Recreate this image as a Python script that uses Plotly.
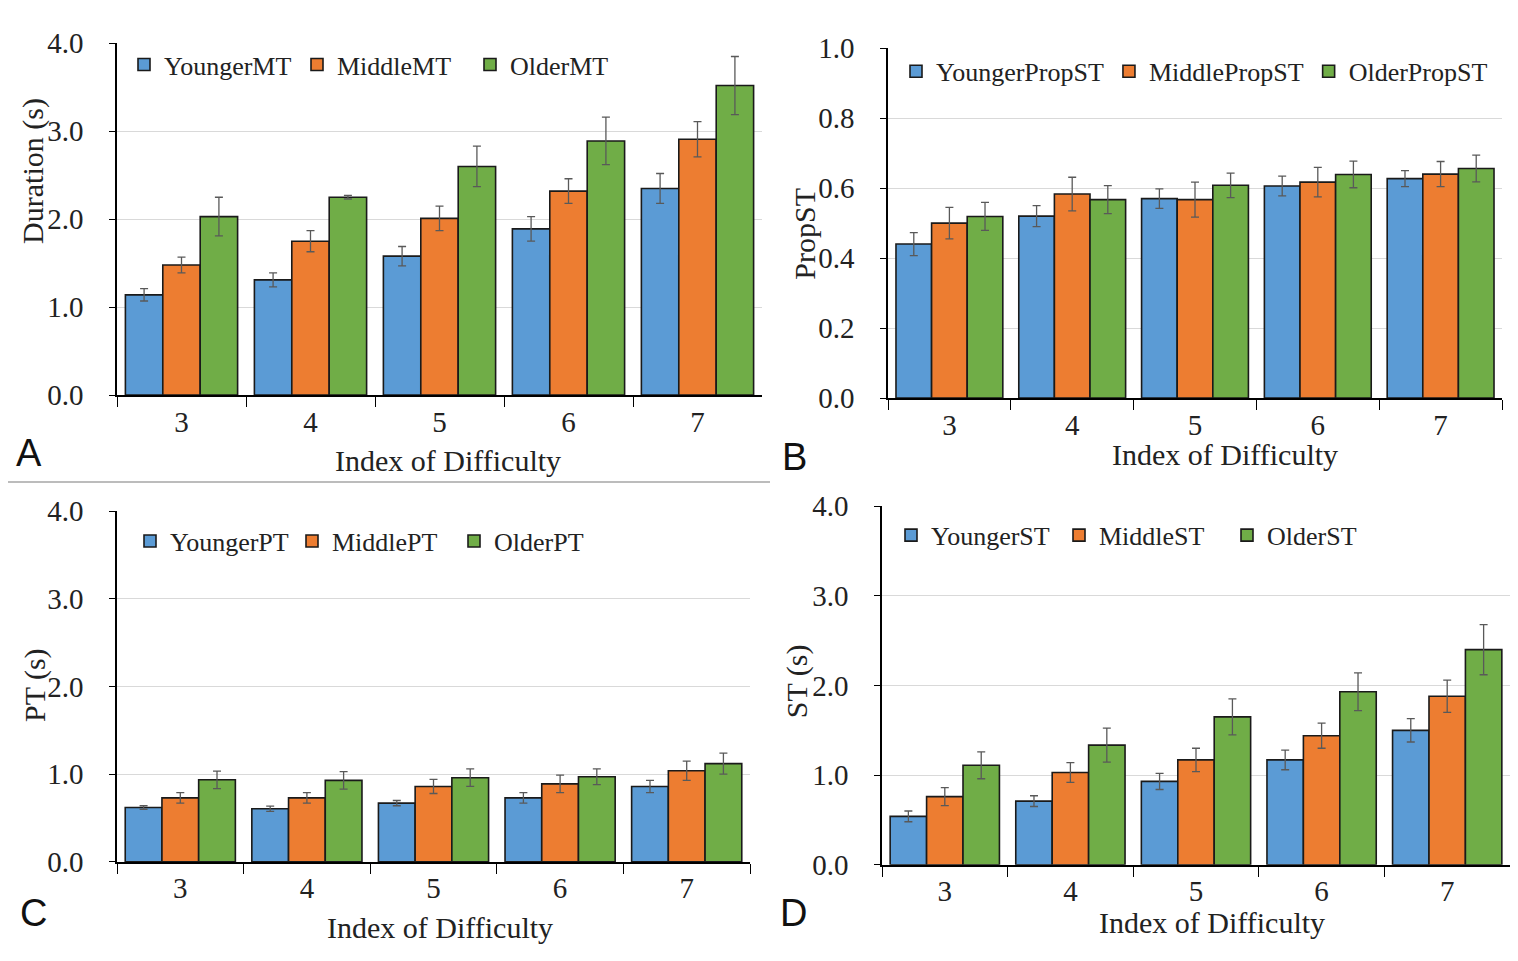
import plotly.graph_objects as go

# The page body adds an 8px margin, so the figure is drawn 8px smaller and all
# layout positions below are given in window pixels and shifted by OFF.
OFF = 8
W, H = 1518 - OFF, 961 - OFF

categories = ["3", "4", "5", "6", "7"]

# Panel A: movement time (Duration, s)
younger_mt = [1.14, 1.31, 1.58, 1.89, 2.35]
middle_mt = [1.48, 1.75, 2.01, 2.32, 2.91]
older_mt = [2.03, 2.25, 2.60, 2.89, 3.52]
younger_mt_err = [0.07, 0.08, 0.11, 0.14, 0.17]
middle_mt_err = [0.09, 0.12, 0.14, 0.14, 0.20]
older_mt_err = [0.22, 0.02, 0.23, 0.27, 0.33]

# Panel B: proportion of ST
younger_prop = [0.44, 0.52, 0.57, 0.606, 0.627]
middle_prop = [0.50, 0.583, 0.567, 0.617, 0.64]
older_prop = [0.519, 0.567, 0.608, 0.639, 0.656]
younger_prop_err = [0.033, 0.03, 0.028, 0.028, 0.023]
middle_prop_err = [0.045, 0.048, 0.05, 0.042, 0.036]
older_prop_err = [0.04, 0.04, 0.035, 0.038, 0.038]

# Panel C: PT (s)
younger_pt = [0.62, 0.606, 0.67, 0.73, 0.86]
middle_pt = [0.73, 0.73, 0.86, 0.89, 1.04]
older_pt = [0.936, 0.93, 0.96, 0.97, 1.12]
younger_pt_err = [0.02, 0.03, 0.03, 0.06, 0.07]
middle_pt_err = [0.06, 0.06, 0.08, 0.10, 0.11]
older_pt_err = [0.10, 0.10, 0.10, 0.09, 0.12]

# Panel D: ST (s)
younger_st = [0.54, 0.71, 0.93, 1.17, 1.50]
middle_st = [0.76, 1.03, 1.17, 1.44, 1.88]
older_st = [1.11, 1.335, 1.65, 1.93, 2.40]
younger_st_err = [0.06, 0.06, 0.09, 0.11, 0.13]
middle_st_err = [0.10, 0.11, 0.13, 0.14, 0.18]
older_st_err = [0.15, 0.19, 0.20, 0.21, 0.28]

panel_series = [
    (["YoungerMT", "MiddleMT", "OlderMT"], [younger_mt, middle_mt, older_mt],
     [younger_mt_err, middle_mt_err, older_mt_err]),
    (["YoungerPropST", "MiddlePropST", "OlderPropST"], [younger_prop, middle_prop, older_prop],
     [younger_prop_err, middle_prop_err, older_prop_err]),
    (["YoungerPT", "MiddlePT", "OlderPT"], [younger_pt, middle_pt, older_pt],
     [younger_pt_err, middle_pt_err, older_pt_err]),
    (["YoungerST", "MiddleST", "OlderST"], [younger_st, middle_st, older_st],
     [younger_st_err, middle_st_err, older_st_err]),
]

colors = ["#5B9BD5", "#ED7D31", "#70AD47"]
SERIF = "Liberation Serif, Times New Roman, serif"


def px(x):
    return (x - OFF) / W


def py(y):
    return 1 - (y - OFF) / H


# pixel boxes in window coords: (x0, x1, ytop, ybottom)
boxes = [(117, 762, 28, 392), (888, 1502, 33, 395), (117, 750, 512, 875), (882, 1510, 507, 878)]
yranges = [[0, 4], [0, 1], [0, 4], [0, 4]]
ytickvals = [[0, 1, 2, 3, 4], [0, 0.2, 0.4, 0.6, 0.8, 1.0], [0, 1, 2, 3, 4], [0, 1, 2, 3, 4]]
ytitles = ["Duration (s)", "PropST", "PT (s)", "ST (s)"]
ytitle_pos = [(33, 160), (805, 225), (35, 692), (797, 688)]
xtitle_pos = [(448, 460), (1225, 453), (440, 943), (1212, 938)]
letters = ["A", "B", "C", "D"]
letter_pos = [(29, 452), (794, 456), (33, 928), (793, 928)]
legend_pos = [(124, 50), (896, 57), (130, 543), (891, 537)]
legend_entry = [128, 0, 117, 123]

fig = go.Figure()
layout = dict(width=W, height=H, margin=dict(l=0, r=0, t=0, b=0),
              paper_bgcolor="white", plot_bgcolor="white",
              font=dict(family=SERIF, color="#222"),
              barmode="group", bargap=0.13, bargroupgap=0.0,
              annotations=[], shapes=[])

for i, (names, vals, errs) in enumerate(panel_series):
    sfx = "" if i == 0 else str(i + 1)
    lg = "legend" if i == 0 else f"legend{i + 1}"
    for name, v, e, c in zip(names, vals, errs, colors):
        fig.add_trace(go.Bar(
            x=categories, y=v, name=name,
            marker=dict(color=c, line=dict(color="#1a1a1a", width=1.6)),
            error_y=dict(type="data", array=e, color="#595959", thickness=1.3, width=4),
            xaxis="x" + sfx, yaxis="y" + sfx, legend=lg,
        ))
    x0, x1, yt, yb = boxes[i]
    layout["xaxis" + sfx] = dict(
        domain=[px(x0), px(x1)], anchor="y" + sfx, type="category",
        tickson="boundaries", ticks="outside", ticklen=10, tickcolor="black",
        tickwidth=1.3,
        showline=True, linecolor="black", linewidth=1.6, showgrid=False,
        tickfont=dict(family=SERIF, size=29, color="#222"), ticklabelstandoff=0,
    )
    layout["yaxis" + sfx] = dict(
        domain=[py(yb), py(yt)], anchor="x" + sfx, range=yranges[i],
        tickvals=ytickvals[i], tickformat=".1f", ticks="outside", ticklen=6,
        tickcolor="black", tickwidth=1.3, showline=True, linecolor="black", linewidth=1.6,
        showgrid=True, gridcolor="#d9d9d9", gridwidth=1.2, zeroline=False,
        tickfont=dict(family=SERIF, size=29, color="#222"), ticklabelstandoff=20,
    )
    lx, ly = legend_pos[i]
    leg = dict(
        x=px(lx), y=py(ly), xanchor="left", yanchor="middle",
        orientation="h", bgcolor="rgba(0,0,0,0)",
        font=dict(family=SERIF, size=26, color="#222"),
        itemwidth=30, tracegroupgap=0, traceorder="normal",
    )
    if legend_entry[i]:
        leg.update(entrywidth=legend_entry[i], entrywidthmode="pixels")
    layout[lg] = leg
    tx, ty = ytitle_pos[i]
    layout["annotations"].append(dict(
        x=px(tx), y=py(ty), xref="paper", yref="paper", text=ytitles[i],
        textangle=-90, showarrow=False, xanchor="center", yanchor="middle",
        font=dict(family=SERIF, size=30, color="#222")))
    tx, ty = xtitle_pos[i]
    layout["annotations"].append(dict(
        x=px(tx), y=py(ty), xref="paper", yref="paper", text="Index of Difficulty",
        showarrow=False, xanchor="center", yanchor="middle",
        font=dict(family=SERIF, size=30, color="#222")))
    tx, ty = letter_pos[i]
    layout["annotations"].append(dict(
        x=px(tx), y=py(ty), xref="paper", yref="paper", text=letters[i],
        showarrow=False, xanchor="center", yanchor="middle",
        font=dict(family="Liberation Sans", size=38, color="#111")))

layout["shapes"].append(dict(type="line", xref="paper", yref="paper",
                             x0=px(5), x1=px(770), y0=py(482), y1=py(482),
                             line=dict(color="#a6a6a6", width=1.5)))

fig.update_layout(**layout)
fig.write_html("out.html")
